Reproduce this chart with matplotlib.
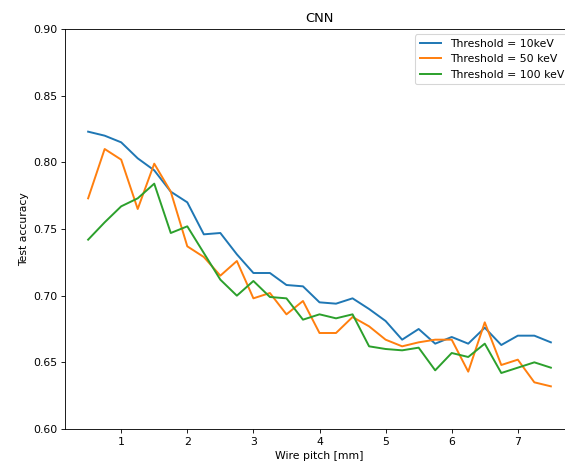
import numpy as np
import matplotlib
matplotlib.use("Agg")
import matplotlib.pyplot as plt

wire_pitch = [0.5, 0.75, 1.0, 1.25, 1.5, 1.75, 2.0, 2.25, 2.5, 2.75, 3.0, 3.25, 3.5, 3.75,
              4.0, 4.25, 4.5, 4.75, 5.0, 5.25, 5.5, 5.75, 6.0, 6.25, 6.5, 6.75, 7.0, 7.25, 7.5]

acc_10kev = [0.823, 0.820, 0.815, 0.803, 0.794, 0.778, 0.770, 0.746, 0.747, 0.731, 0.717, 0.717,
             0.708, 0.707, 0.695, 0.694, 0.698, 0.690, 0.681, 0.667, 0.675, 0.664, 0.669, 0.664,
             0.676, 0.663, 0.670, 0.670, 0.665]

acc_50kev = [0.773, 0.810, 0.802, 0.765, 0.799, 0.778, 0.737, 0.729, 0.715, 0.726, 0.698, 0.702,
             0.686, 0.696, 0.672, 0.672, 0.684, 0.677, 0.667, 0.662, 0.665, 0.667, 0.667, 0.643,
             0.680, 0.648, 0.652, 0.635, 0.632]

acc_100kev = [0.742, 0.755, 0.767, 0.773, 0.784, 0.747, 0.752, 0.732, 0.712, 0.700, 0.711, 0.699,
              0.698, 0.682, 0.686, 0.683, 0.686, 0.662, 0.660, 0.659, 0.661, 0.644, 0.657, 0.654,
              0.664, 0.642, 0.646, 0.650, 0.646]

labels = ["Threshold = 10keV", "Threshold = 50 keV", "Threshold = 100 keV"]

DPI = 78
fig = plt.figure(figsize=(565 / DPI, 471 / DPI), dpi=DPI)
W, H = 565, 471
ax = fig.add_axes([65 / W, 1 - 429 / H, (574 - 65) / W, (429 - 29) / H])

ax.plot(wire_pitch, acc_10kev, label=labels[0], color="#1f77b4", lw=1.8)
ax.plot(wire_pitch, acc_50kev, label=labels[1], color="#ff7f0e", lw=1.8)
ax.plot(wire_pitch, acc_100kev, label=labels[2], color="#2ca02c", lw=1.8)

ax.set_ylim(0.60, 0.90)
ax.set_yticks([0.60, 0.65, 0.70, 0.75, 0.80, 0.85, 0.90])
ax.set_yticklabels(["0.60", "0.65", "0.70", "0.75", "0.80", "0.85", "0.90"])
ax.set_xticks([1, 2, 3, 4, 5, 6, 7])
ax.set_xlabel("Wire pitch [mm]")
ax.set_ylabel("Test accuracy")
ax.set_title("CNN")
ax.legend(loc="upper right")

fig.savefig("out.png", dpi=DPI)
